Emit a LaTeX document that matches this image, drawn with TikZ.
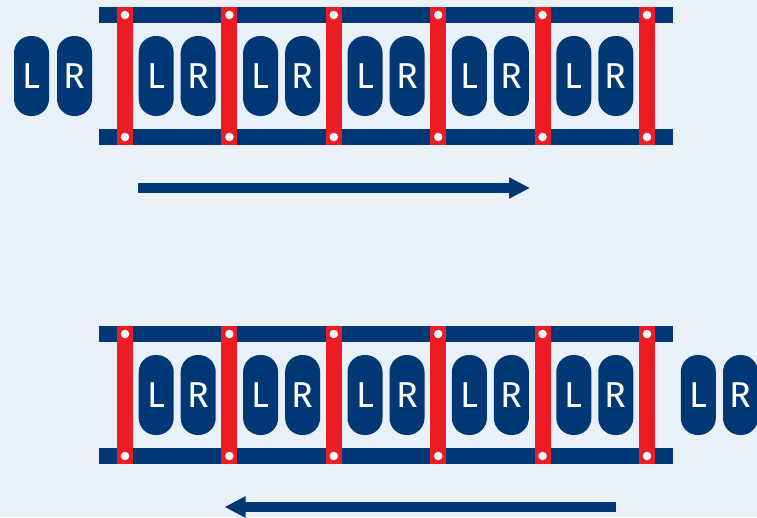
\documentclass[tikz,border=0pt]{standalone}
\usepackage{fontspec}
\newfontfamily\footfont{Fira Sans}
\usetikzlibrary{arrows.meta,positioning}
\definecolor{snavy}{HTML}{003876}
\definecolor{sred}{HTML}{ED1C24}
\definecolor{ssnow}{HTML}{EAF0F7}

\begin{document}
\begin{tikzpicture}[
    x=1pt,y=-1pt,
    rail/.style={fill=snavy,draw=none},
    rung/.style={fill=sred,draw=none,minimum width=16pt,
                 minimum height=138pt,inner sep=0pt},
    bolt/.style={circle,fill=white,inner sep=0pt,minimum size=8.5pt},
    foot/.style={fill=snavy,rounded corners=17pt,minimum width=35pt,
                 minimum height=80pt,inner sep=0pt,text=white,
                 font=\footfont\fontsize{36}{36}\selectfont},
    arr/.style={-{Triangle[length=21pt,width=20pt]},line width=10pt,snavy}
  ]
    \useasboundingbox (0,0) rectangle (757,517);
    \fill[ssnow] (0,0) rectangle (757,517);

    % Ladders (top and bottom)
    \foreach \yo/\lad in {0/t,319/b} {
      \fill[rail] (99,7+\yo) rectangle (673,23+\yo);
      \fill[rail] (99,129+\yo) rectangle (673,145+\yo);
      \foreach \i in {0,...,5} {
        \node[rung] (\lad rung\i) at ({125+104.4*\i},{76+\yo}) {};
        \node[bolt] at ({125+104.4*\i},{15+\yo}) {};
        \node[bolt] at ({125+104.4*\i},{137+\yo}) {};
      }
      \foreach \i in {0,...,4} {
        \node[foot] (\lad L\i) at ({156.2+104.4*\i},{76+\yo}) {L};
        \node[foot] (\lad R\i) at ({198.2+104.4*\i},{76+\yo}) {R};
      }
    }

    % Feet outside the ladders
    \node[foot] (tLx) at (31.5,76) {L};
    \node[foot] (tRx) at (74.5,76) {R};
    \node[foot] (bLx) at (698.3,395) {L};
    \node[foot] (bRx) at (740.5,395) {R};

    % Direction arrows
    \coordinate (fwdS) at (138,188);
    \coordinate (fwdE) at (530,188);
    \draw[arr] (fwdS) -- (fwdE);
    \coordinate (bckS) at (616,507);
    \coordinate (bckE) at (224.5,507);
    \draw[arr] (bckS) -- (bckE);

  \end{tikzpicture}
\end{document}
